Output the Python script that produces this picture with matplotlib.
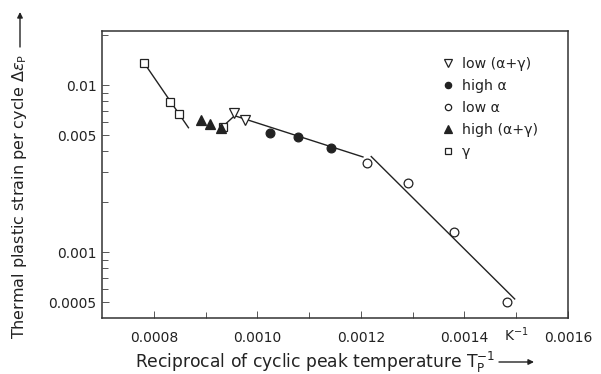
import matplotlib
matplotlib.use("Agg")
import matplotlib.pyplot as plt
from matplotlib.ticker import FixedLocator, FixedFormatter, NullFormatter

# ---- data ----
gamma_x = [0.000781, 0.000832, 0.000848, 0.000933]
gamma_y = [0.0136, 0.00794, 0.0067, 0.00563]

high_ag_x = [0.000891, 0.000909, 0.000929]
high_ag_y = [0.00617, 0.00584, 0.00551]

low_ag_x = [0.000955, 0.000977]
low_ag_y = [0.00683, 0.00617]

high_a_x = [0.001025, 0.001079, 0.001143]
high_a_y = [0.00514, 0.00486, 0.00418]

low_a_x = [0.001212, 0.001291, 0.001379, 0.001482]
low_a_y = [0.0034, 0.00258, 0.001324, 0.0005]

# fitted lines (start/end points)
fitA_x = [0.000781, 0.000867]
fitA_y = [0.0136, 0.00555]
fitB_x = [0.000926, 0.000956]
fitB_y = [0.00538, 0.00655]
fitC_x = [0.000956, 0.001204]
fitC_y = [0.00655, 0.00371]
fitD_x = [0.00122, 0.001497]
fitD_y = [0.00373, 0.000524]

xticks = [0.0008, 0.0010, 0.0012, 0.0014, 0.0016]
xtick_labels = ["0.0008", "0.0010", "0.0012", "0.0014", "0.0016"]
xminor = [0.0009, 0.0011, 0.0013, 0.0015]
yticks = [0.0005, 0.001, 0.005, 0.01]
ytick_labels = ["0.0005", "0.001", "0.005", "0.01"]
yminor = [0.0004, 0.0006, 0.0007, 0.0008, 0.0009, 0.002, 0.003, 0.004,
          0.006, 0.007, 0.008, 0.009, 0.02]

labels = ["low (α+γ)", "high α", "low α", "high (α+γ)", "γ"]

# ---- figure ----
W, H = 601, 374
fig = plt.figure(figsize=(W / 100, H / 100), dpi=100)
ax = fig.add_axes([102 / W, 1 - 318 / H, 466 / W, 287 / H])

lc = "#222222"
lw = 1.0
for fx, fy in [(fitA_x, fitA_y), (fitB_x, fitB_y), (fitC_x, fitC_y), (fitD_x, fitD_y)]:
    ax.plot(fx, fy, color=lc, lw=lw, zorder=2)

ms = 6.3
mew = 0.9
h_lag, = ax.plot(low_ag_x, low_ag_y, ls="none", marker="v", ms=ms + 1, mfc="white",
                 mec=lc, mew=mew, zorder=3)
h_ha, = ax.plot(high_a_x, high_a_y, ls="none", marker="o", ms=ms, mfc=lc,
                mec=lc, mew=mew, zorder=3)
h_la, = ax.plot(low_a_x, low_a_y, ls="none", marker="o", ms=ms, mfc="white",
                mec=lc, mew=mew, zorder=3)
h_g, = ax.plot(gamma_x, gamma_y, ls="none", marker="s", ms=ms, mfc="white",
               mec=lc, mew=mew, zorder=3)
h_hag, = ax.plot(high_ag_x, high_ag_y, ls="none", marker="^", ms=ms + 1, mfc=lc,
                 mec=lc, mew=mew, zorder=4)

ax.set_yscale("log")
ax.set_xlim(0.0007, 0.0016)
ax.set_ylim(0.000403, 0.02105)

ax.xaxis.set_major_locator(FixedLocator(xticks))
ax.xaxis.set_major_formatter(FixedFormatter(xtick_labels))
ax.xaxis.set_minor_locator(FixedLocator(xminor))
ax.yaxis.set_major_locator(FixedLocator(yticks))
ax.yaxis.set_major_formatter(FixedFormatter(ytick_labels))
ax.yaxis.set_minor_locator(FixedLocator(yminor))
ax.yaxis.set_minor_formatter(NullFormatter())

ax.tick_params(which="both", direction="in", color="#555555", labelsize=10,
               labelcolor="#222222", width=0.7)
ax.tick_params(which="major", length=5)
ax.tick_params(which="minor", length=4)
ax.tick_params(axis="x", which="major", pad=9)
ax.tick_params(axis="y", which="major", pad=4)
for s in ax.spines.values():
    s.set_color("#333333")
    s.set_linewidth(1.1)

ax.legend([h_lag, h_ha, h_la, h_hag, h_g], labels, loc="upper left",
          bbox_to_anchor=(0.7265, 0.908), frameon=False, borderaxespad=0,
          borderpad=0, handlelength=1.0, handletextpad=0.5, labelspacing=0.55,
          markerscale=0.72, fontsize=10.2, labelcolor="#222222")

# K^-1 unit label
ax.text(0.00150, -0.080, "K$^{-1}$", transform=ax.get_xaxis_transform(),
        ha="center", va="baseline", fontsize=10, color="#222222")

# axis labels with arrows
fig.text(135 / W, 1 - 368 / H, r"Reciprocal of cyclic peak temperature T$_\mathrm{P}^{-1}$",
         ha="left", va="baseline", fontsize=12.3, color="#222222")
ax.annotate("", xy=(534, H - 362), xytext=(499, H - 362), xycoords="figure pixels",
            textcoords="figure pixels",
            arrowprops=dict(arrowstyle="-|>", color="#222222", lw=1.0,
                            mutation_scale=8, shrinkA=0, shrinkB=0))

fig.text(20 / W, 1 - 339 / H, r"Thermal plastic strain per cycle $\Delta\varepsilon_\mathrm{P}$",
         ha="center", va="bottom", rotation=90, fontsize=11.5, color="#222222")
ax.annotate("", xy=(20, H - 12), xytext=(20, H - 47), xycoords="figure pixels",
            textcoords="figure pixels",
            arrowprops=dict(arrowstyle="-|>", color="#222222", lw=1.0,
                            mutation_scale=8, shrinkA=0, shrinkB=0))

fig.savefig("out.png", dpi=100)
